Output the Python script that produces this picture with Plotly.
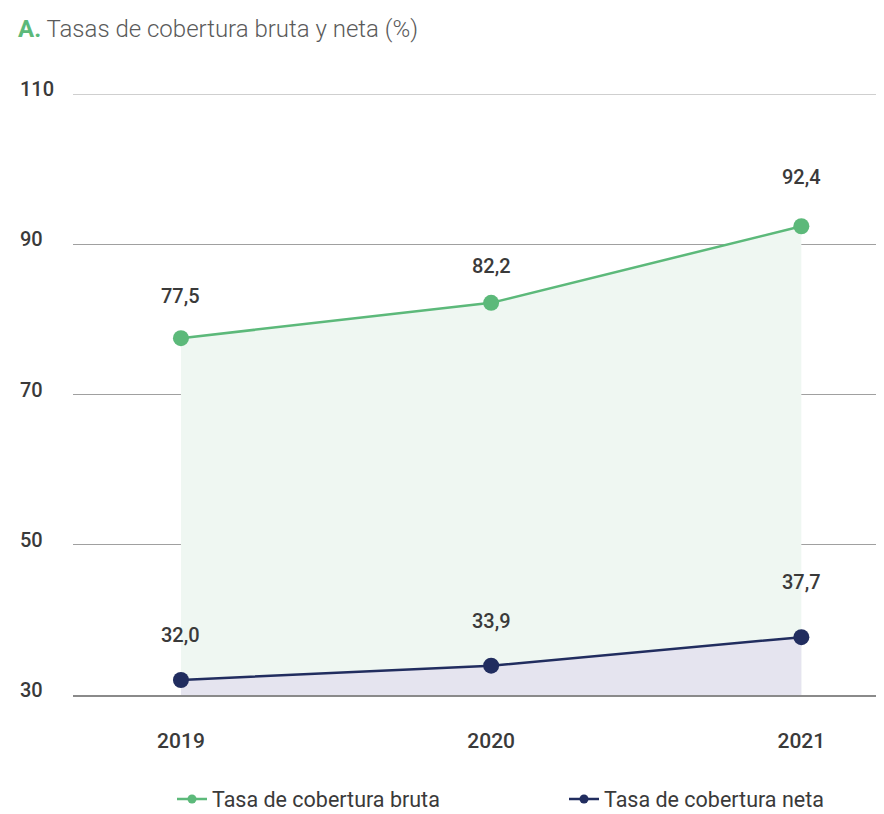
import plotly.graph_objects as go

years = ["2019", "2020", "2021"]
bruta = [77.5, 82.2, 92.4]
neta = [32.0, 33.9, 37.7]
y_ticks = [30, 50, 70, 90, 110]
series_names = ["Tasa de cobertura bruta", "Tasa de cobertura neta"]
title_prefix = "A."
title_text = "Tasas de cobertura bruta y neta (%)"

# styling: pixel lift of each value label above its point
bruta_label_lift = [42, 37, 49]
neta_label_lift = [45, 45, 55]

GREEN = "#5cb97a"
NAVY = "#212d5f"
TEXT = "#3a3a3a"
GRID = "#a0a0a0"
FONT = "Roboto"

# page has an 8px body margin: figure coords = screen coords - 8
OFF = 8

fig = go.Figure()
fig.add_trace(go.Scatter(
    x=years, y=bruta, mode="lines+markers", fill="tozeroy", fillcolor="#eff7f2",
    line=dict(color=GREEN, width=2.5), marker=dict(size=16, color=GREEN),
    showlegend=False, hoverinfo="skip"))
fig.add_trace(go.Scatter(
    x=years, y=neta, mode="lines+markers", fill="tozeroy", fillcolor="#e5e4ef",
    line=dict(color=NAVY, width=2.5), marker=dict(size=16, color=NAVY),
    showlegend=False, hoverinfo="skip"))

# legend-only traces
for name, col in zip(series_names, [GREEN, NAVY]):
    fig.add_trace(go.Scatter(
        x=[None], y=[None], mode="lines+markers", name=name,
        line=dict(color=col, width=2.5), marker=dict(size=9, color=col)))

annotations = []
for vals, lifts in ((bruta, bruta_label_lift), (neta, neta_label_lift)):
    for i, (v, lift) in enumerate(zip(vals, lifts)):
        annotations.append(dict(
            x=i, y=v, xref="x", yref="y", text=f"{v:.1f}".replace(".", ","),
            showarrow=False, yshift=lift, font=dict(family=FONT, size=20, color=TEXT, weight=500)))
for t in y_ticks:
    annotations.append(dict(
        x=(18 - 73) / 809, xref="paper", y=t, yref="y", text=str(t), xanchor="left",
        showarrow=False, yshift=5, font=dict(family=FONT, size=20, color=TEXT, weight=500)))

fig.update_layout(
    width=884, height=814,
    margin=dict(l=73 - OFF, r=10, t=94 - OFF, b=814 - (695 - OFF), autoexpand=False),
    plot_bgcolor="white", paper_bgcolor="white",
    font=dict(family=FONT, color=TEXT),
    title=dict(
        text=f"<b><span style='color:{GREEN}'>{title_prefix}</span></b> {title_text}",
        x=(18 - OFF) / 884, xanchor="left", xref="container",
        y=1 - 12 / 814, yanchor="top", yref="container",
        font=dict(family=FONT, size=24, color="#5a5a5a", weight=300)),
    annotations=annotations,
    shapes=[dict(type="line", xref="paper", x0=0, x1=1, yref="y", y0=y_ticks[-1], y1=y_ticks[-1],
                 line=dict(color=GRID, width=1), layer="below")],
    legend=dict(orientation="h", x=(564 - OFF) / 884, xanchor="center", xref="container",
                y=1 - (799 - OFF) / 814, yanchor="middle", yref="container",
                font=dict(family=FONT, size=21.5, color=TEXT, weight=400),
                entrywidth=347, entrywidthmode="pixels"),
    xaxis=dict(type="category", range=[-0.348, 2.26], showgrid=False, zeroline=False,
               showline=True, linecolor="#8a8a8a", linewidth=2,
               tickfont=dict(family=FONT, size=21, color=TEXT, weight=500),
               ticks="", ticklabelstandoff=26),
    yaxis=dict(range=[30, 110], tickvals=y_ticks, showticklabels=False,
               showgrid=True, gridcolor=GRID, gridwidth=1, zeroline=False,
               showline=False),
)

fig.write_html("out.html")
